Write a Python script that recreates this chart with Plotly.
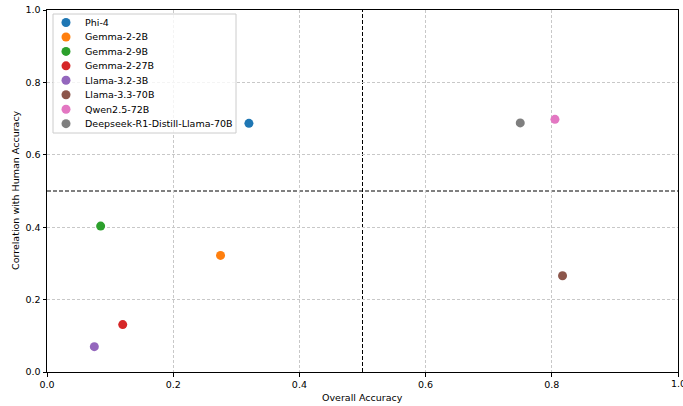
import plotly.graph_objects as go

models = ["Phi-4", "Gemma-2-2B", "Gemma-2-9B", "Gemma-2-27B", "Llama-3.2-3B",
          "Llama-3.3-70B", "Qwen2.5-72B", "Deepseek-R1-Distill-Llama-70B"]
overall_acc = [0.320, 0.275, 0.085, 0.120, 0.075, 0.817, 0.805, 0.750]
corr_human = [0.687, 0.322, 0.403, 0.131, 0.070, 0.266, 0.698, 0.688]
colors = ["#1f77b4", "#ff7f0e", "#2ca02c", "#d62728", "#9467bd",
          "#8c564b", "#e377c2", "#7f7f7f"]
ticks = [0.0, 0.2, 0.4, 0.6, 0.8, 1.0]

FONT = "DejaVu Sans"
fig = go.Figure()
for m, x, y, c in zip(models, overall_acc, corr_human, colors):
    fig.add_trace(go.Scatter(x=[x], y=[y], mode="markers", name=m, showlegend=False,
                             cliponaxis=False,
                             marker=dict(color=c, size=9, line=dict(width=0))))

# threshold lines
fig.add_shape(type="line", xref="x", yref="paper", x0=0.5, x1=0.5, y0=0, y1=1,
              line=dict(color="black", width=1, dash="4px,2px"), layer="below")
fig.add_shape(type="line", xref="paper", yref="y", x0=0, x1=1, y0=0.5, y1=0.5,
              line=dict(color="black", width=1, dash="4px,2px"), layer="below")

# custom legend (matplotlib-style)
W, H, L, T, B, R = 683, 406, 47, 10, 34, 5
pw, ph = W - L - R, H - T - B
def px(xp): return (xp - L) / pw
def py(yp): return (H - B - yp) / ph

fig.add_shape(type="rect", xref="paper", yref="paper",
              x0=px(53), x1=px(236), y0=py(133), y1=py(14),
              line=dict(color="#cccccc", width=1), fillcolor="rgba(255,255,255,0.8)", layer="above")
for i, (m, c) in enumerate(zip(models, colors)):
    yc = 22.5 + i * 14.45
    fig.add_shape(type="circle", xref="paper", yref="paper", xsizemode="pixel", ysizemode="pixel",
                  xanchor=px(66), yanchor=py(yc), x0=-4.5, x1=4.5, y0=-4.5, y1=4.5,
                  fillcolor=c, line=dict(width=0), layer="above")
    fig.add_annotation(xref="paper", yref="paper", x=px(83), y=py(yc), text=m,
                       showarrow=False, xanchor="left", yanchor="middle",
                       font=dict(family=FONT, size=9.5, color="black"))

# axis titles
fig.add_annotation(xref="paper", yref="paper", x=px(362), y=py(397), text="Overall Accuracy",
                   showarrow=False, xanchor="center", yanchor="middle",
                   font=dict(family=FONT, size=9.5, color="black"))
fig.add_annotation(xref="paper", yref="paper", x=px(16), y=py(190), text="Correlation with Human Accuracy",
                   showarrow=False, xanchor="center", yanchor="middle", textangle=-90,
                   font=dict(family=FONT, size=9.5, color="black"))
# last x tick label (clipped at the right edge, as in the reference)
fig.add_annotation(xref="x", yref="paper", x=ticks[-1], y=py(383), text=f"{ticks[-1]:.1f}",
                   showarrow=False, xanchor="center", yanchor="middle",
                   font=dict(family=FONT, size=9.5, color="black"))

axis_common = dict(range=[0, 1], tickvals=ticks, ticktext=[f"{t:.1f}" for t in ticks],
                   showgrid=True, gridcolor="#c8c8c8", griddash="3px,2px", gridwidth=1,
                   showline=True, linecolor="black", linewidth=1, mirror=True,
                   ticks="outside", ticklen=3.5, tickcolor="black", zeroline=False,
                   automargin=False,
                   tickfont=dict(family=FONT, size=9.5, color="black"))
fig.update_xaxes(**axis_common)
fig.update_yaxes(**axis_common)
fig.update_layout(width=W, height=H, margin=dict(l=L, r=R, t=T, b=B),
                  plot_bgcolor="white", paper_bgcolor="white", showlegend=False)
fig.write_html("out.html", config={"displayModeBar": False},
               post_script="document.body.style.margin='0';document.body.style.overflow='hidden';")
